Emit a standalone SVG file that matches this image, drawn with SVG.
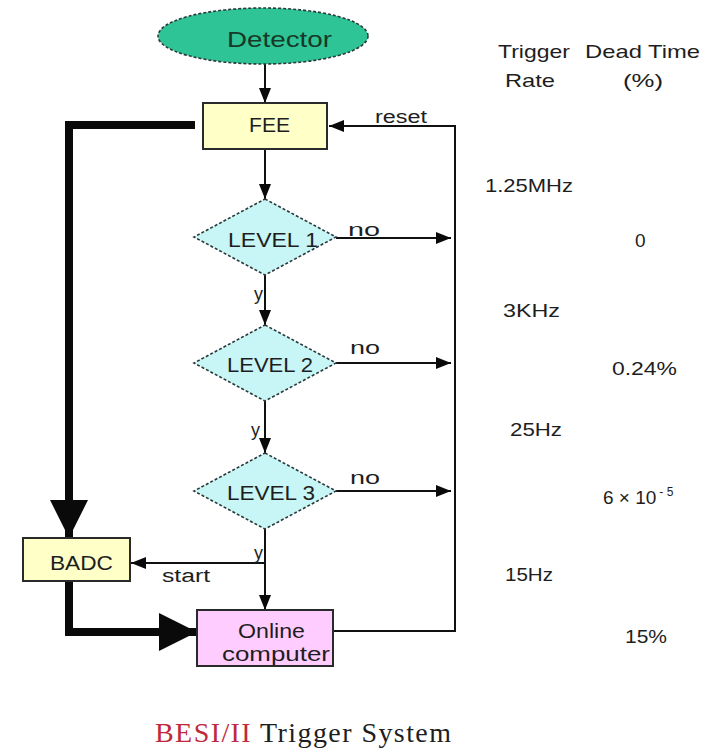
<svg xmlns="http://www.w3.org/2000/svg" width="712" height="756" viewBox="0 0 712 756">
<style>
text{font-family:"Liberation Sans",Arial,sans-serif;}
.lbl{font-size:21px;fill:#1e1e1e;}
.sm{font-size:18px;fill:#1e1e1e;}
.col{font-size:19px;fill:#1e1e1e;}
.ttl{font-family:"Liberation Serif","Times New Roman",serif;font-size:28px;}
.box{stroke:#2a2a2a;stroke-width:2;}
.dash{stroke:#2a3a3a;stroke-width:1.6;stroke-dasharray:3 2;}
.ln{fill:none;stroke:#111;stroke-width:2;}
.thick{fill:none;stroke:#0a0a0a;stroke-width:8;stroke-linejoin:miter;stroke-linecap:butt;}
</style>
<defs>
<marker id="ah" markerUnits="userSpaceOnUse" markerWidth="15" markerHeight="12" refX="15" refY="6" orient="auto">
<path d="M0,0 L15,6 L0,12 z" fill="#0a0a0a"/>
</marker>
<marker id="big" markerUnits="userSpaceOnUse" markerWidth="38" markerHeight="38" refX="38" refY="19" orient="auto">
<path d="M0,0 L38,19 L0,38 z" fill="#0a0a0a"/>
</marker>
</defs>
<rect width="712" height="756" fill="#ffffff"/>

<g id="connectors">
<line class="ln" x1="265" y1="64" x2="265" y2="103" marker-end="url(#ah)"/>
<line class="ln" x1="265" y1="149" x2="265" y2="199" marker-end="url(#ah)"/>
<line class="ln" x1="265" y1="275" x2="265" y2="325" marker-end="url(#ah)"/>
<line class="ln" x1="265" y1="401" x2="265" y2="453" marker-end="url(#ah)"/>
<line class="ln" x1="265" y1="529" x2="265" y2="610" marker-end="url(#ah)"/>
<line class="ln" x1="266" y1="563" x2="131" y2="563" marker-end="url(#ah)"/>
<line class="ln" x1="336" y1="238" x2="451" y2="238" marker-end="url(#ah)"/>
<line class="ln" x1="336" y1="363" x2="451" y2="363" marker-end="url(#ah)"/>
<line class="ln" x1="336" y1="491" x2="451" y2="491" marker-end="url(#ah)"/>
<path class="ln" d="M333,631 H455 V126 H329" marker-end="url(#ah)"/>
<path class="thick" d="M195,125 H69 V538" marker-end="url(#big)"/>
<path class="thick" d="M69,581 V632 H197" marker-end="url(#big)"/>
<text class="sm" x="375" y="123" textLength="52" lengthAdjust="spacingAndGlyphs">reset</text>
<text class="sm" x="348" y="236" textLength="32" lengthAdjust="spacingAndGlyphs">no</text>
<text class="sm" x="350" y="354" textLength="30" lengthAdjust="spacingAndGlyphs">no</text>
<text class="sm" x="350" y="484" textLength="30" lengthAdjust="spacingAndGlyphs">no</text>
<text class="sm" x="254" y="300">y</text>
<text class="sm" x="251" y="436">y</text>
<text class="sm" x="254" y="559">y</text>
<text class="sm" x="162" y="582" textLength="48" lengthAdjust="spacingAndGlyphs">start</text>
</g>

<g id="detector">
<ellipse cx="263" cy="36" rx="105" ry="28" fill="#2ec495" class="dash"/>
<text x="227" y="47" font-size="22" fill="#183828" textLength="105" lengthAdjust="spacingAndGlyphs">Detector</text>
</g>

<g id="fee">
<rect x="203" y="103" width="124" height="46" fill="#ffffc8" class="box"/>
<text class="lbl" x="249" y="132" textLength="41" lengthAdjust="spacingAndGlyphs">FEE</text>
</g>

<g id="level1">
<polygon points="265,199 336,237 265,275 194,237" fill="#c8f5f5" class="dash"/>
<text class="lbl" x="228" y="247" fill="#0e2e2e" textLength="90" lengthAdjust="spacingAndGlyphs">LEVEL 1</text>
</g>

<g id="level2">
<polygon points="265,325 336,363 265,401 194,363" fill="#c8f5f5" class="dash"/>
<text class="lbl" x="227" y="372" fill="#0e2e2e" textLength="86" lengthAdjust="spacingAndGlyphs">LEVEL 2</text>
</g>

<g id="level3">
<polygon points="265,453 336,491 265,529 194,491" fill="#c8f5f5" class="dash"/>
<text class="lbl" x="227" y="500" fill="#0e2e2e" textLength="88" lengthAdjust="spacingAndGlyphs">LEVEL 3</text>
</g>

<g id="badc">
<rect x="23" y="538" width="107" height="43" fill="#ffffc8" class="box"/>
<text class="lbl" x="50" y="570" textLength="63" lengthAdjust="spacingAndGlyphs">BADC</text>
</g>

<g id="online">
<rect x="197" y="610" width="136" height="56" fill="#ffccff" class="box"/>
<text class="lbl" x="238" y="638" fill="#3a0a3a" textLength="67" lengthAdjust="spacingAndGlyphs">Online</text>
<text class="lbl" x="222" y="661" fill="#3a0a3a" textLength="108" lengthAdjust="spacingAndGlyphs">computer</text>
</g>

<g id="table">
<text class="col" x="498" y="58" textLength="72" lengthAdjust="spacingAndGlyphs">Trigger</text>
<text class="col" x="505" y="87" textLength="50" lengthAdjust="spacingAndGlyphs">Rate</text>
<text class="col" x="585" y="58" textLength="115" lengthAdjust="spacingAndGlyphs">Dead Time</text>
<text class="col" x="623" y="87" textLength="40" lengthAdjust="spacingAndGlyphs">(%)</text>
<text class="col" x="485" y="192" textLength="88" lengthAdjust="spacingAndGlyphs">1.25MHz</text>
<text class="col" x="635" y="247">0</text>
<text class="col" x="503" y="317" textLength="57" lengthAdjust="spacingAndGlyphs">3KHz</text>
<text class="col" x="612" y="375" textLength="65" lengthAdjust="spacingAndGlyphs">0.24%</text>
<text class="col" x="510" y="436" textLength="52" lengthAdjust="spacingAndGlyphs">25Hz</text>
<text class="col" x="603" y="504">6 × 10<tspan font-size="12" dx="3" dy="-8">- 5</tspan></text>
<text class="col" x="505" y="581" textLength="48" lengthAdjust="spacingAndGlyphs">15Hz</text>
<text class="col" x="625" y="643" textLength="42" lengthAdjust="spacingAndGlyphs">15%</text>
</g>

<g id="title">
<text class="ttl" x="155" y="742" textLength="296"><tspan fill="#c0283c">BESI/II</tspan><tspan fill="#1e1e1e"> Trigger System</tspan></text>
</g>
</svg>
